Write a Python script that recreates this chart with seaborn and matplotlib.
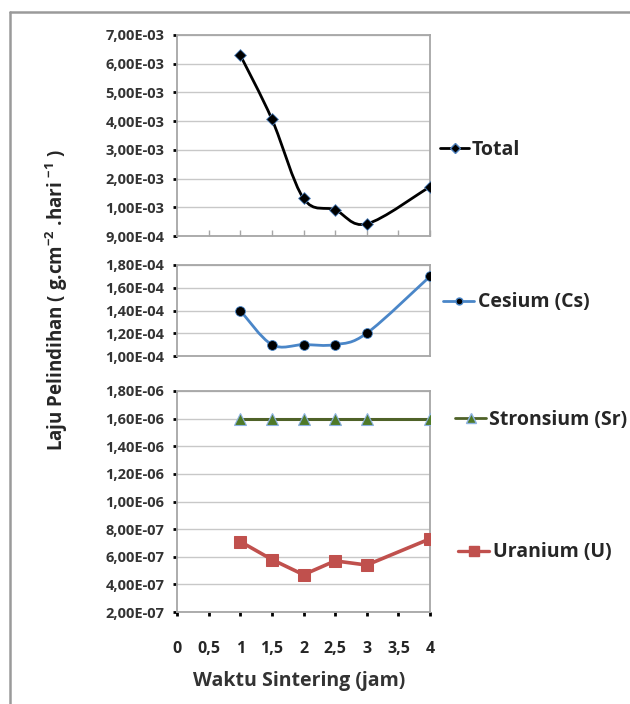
import numpy as np
import pandas as pd
import matplotlib
matplotlib.use("Agg")
import matplotlib.pyplot as plt
from matplotlib.path import Path
from matplotlib.patches import PathPatch
from matplotlib.lines import Line2D
import seaborn as sns

# ---------------- data ----------------
waktu = [1, 1.5, 2, 2.5, 3, 4]
total = [6.30e-3, 4.07e-3, 1.31e-3, 0.91e-3, 0.42e-3, 1.72e-3]
cesium = [1.40e-4, 1.10e-4, 1.10e-4, 1.10e-4, 1.20e-4, 1.70e-4]
stronsium = [1.60e-6, 1.60e-6, 1.60e-6, 1.60e-6, 1.60e-6, 1.60e-6]
uranium = [7.1e-7, 5.8e-7, 4.7e-7, 5.7e-7, 5.4e-7, 7.3e-7]

total_ticks = [0, 1e-3, 2e-3, 3e-3, 4e-3, 5e-3, 6e-3, 7e-3]
total_ticklabels = ["9,00E-04", "1,00E-03", "2,00E-03", "3,00E-03",
                    "4,00E-03", "5,00E-03", "6,00E-03", "7,00E-03"]
cs_ticks = [1.0e-4, 1.2e-4, 1.4e-4, 1.6e-4, 1.8e-4]
cs_ticklabels = ["1,00E-04", "1,20E-04", "1,40E-04", "1,60E-04", "1,80E-04"]
bot_ticks = [2e-7, 4e-7, 6e-7, 8e-7, 1.0e-6, 1.2e-6, 1.4e-6, 1.6e-6, 1.8e-6]
bot_ticklabels = ["2,00E-07", "4,00E-07", "6,00E-07", "8,00E-07", "1,00E-06",
                  "1,20E-06", "1,40E-06", "1,60E-06", "1,80E-06"]
x_ticks = [0, 0.5, 1, 1.5, 2, 2.5, 3, 3.5, 4]
x_ticklabels = ["0", "0,5", "1", "1,5", "2", "2,5", "3", "3,5", "4"]

labels = ["Total", "Cesium (Cs)", "Stronsium (Sr)", "Uranium (U)"]
xlabel = "Waktu Sintering (jam)"
ylabel = r"Laju Pelindihan ( g.cm$^{\mathbf{-2}}$ .hari $^{\mathbf{-1}}$ )"

# ---------------- style ----------------
sns.set_theme(style="white")
plt.rcParams["font.family"] = ["Open Sans", "DejaVu Sans"]
plt.rcParams["font.weight"] = "bold"
plt.rcParams["mathtext.fontset"] = "custom"
plt.rcParams["mathtext.bf"] = "Open Sans:bold"
plt.rcParams["mathtext.rm"] = "Open Sans:bold"

W, H = 630, 704
fig = plt.figure(figsize=(W / 100, H / 100), dpi=100)


def box(l, t, r, b):
    return [l / W, 1 - b / H, (r - l) / W, (b - t) / H]


ax1 = fig.add_axes(box(177, 35, 430, 236))
ax2 = fig.add_axes(box(177, 265, 430, 356))
ax3 = fig.add_axes(box(177, 391, 430, 612))

# outer frame (top and left border of chart area)
fig.add_artist(Line2D([10 / W, 10 / W], [1 - 12 / H, 0], color="#9a9a9a", lw=1.8,
                      transform=fig.transFigure))
fig.add_artist(Line2D([10 / W, 1], [1 - 12 / H, 1 - 12 / H], color="#9a9a9a", lw=1.8,
                      transform=fig.transFigure))


def smooth_curve(ax, xs, ys, color, lw):
    # Excel-like smoothed line through the data points (cubic Bezier segments)
    pts = np.column_stack([xs, ys]).astype(float)
    n = len(pts)
    verts = [pts[0]]
    codes = [Path.MOVETO]
    for i in range(n - 1):
        p0 = pts[i - 1] if i > 0 else pts[i]
        p1 = pts[i]
        p2 = pts[i + 1]
        p3 = pts[i + 2] if i + 2 < n else pts[i + 1]
        c1 = p1 + (p2 - p0) / 6.0
        c2 = p2 - (p3 - p1) / 6.0
        verts += [c1, c2, p2]
        codes += [Path.CURVE4] * 3
    ax.add_patch(PathPatch(Path(verts, codes), facecolor="none", edgecolor=color,
                           lw=lw, zorder=3, capstyle="round", joinstyle="round"))


def style_axis(ax, yticks, yticklabels, ylim):
    ax.set_xlim(0, 4)
    ax.set_ylim(*ylim)
    ax.set_yticks(yticks)
    ax.set_yticklabels(yticklabels, fontsize=10.5, fontweight="bold", color="#333333")
    ax.set_xticks(x_ticks)
    ax.grid(axis="y", color="#c8c8c8", lw=1)
    ax.grid(axis="x", visible=False)
    for s in ax.spines.values():
        s.set_color("#a6a6a6")
        s.set_linewidth(1.3)
    ax.tick_params(axis="y", which="major", left=True, length=3, width=2, color="black",
                   direction="out", pad=6)
    ax.set_xlabel("")
    ax.set_ylabel("")


LEG = {"size": 14, "weight": "bold"}

# ---- Top: Total ----
df_total = pd.DataFrame({"x": waktu, "y": total})
smooth_curve(ax1, waktu, total, "black", 2.0)
sns.scatterplot(data=df_total, x="x", y="y", ax=ax1, marker="D", s=36, color="black",
                edgecolor="#4f81bd", linewidth=0.6, zorder=4, legend=False)
style_axis(ax1, total_ticks, total_ticklabels, (0, 7e-3))
ax1.tick_params(axis="x", bottom=True, length=4, width=1, color="#a6a6a6",
                direction="in", labelbottom=False)
ax1.legend(handles=[Line2D([], [], color="black", lw=2, marker="D", markersize=5,
                           markerfacecolor="black", markeredgecolor="#4f81bd")],
           labels=[labels[0]], loc="center left", bbox_to_anchor=(1.0, 0.43),
           frameon=False, prop=LEG, handlelength=1.5,
           handletextpad=0.12, borderaxespad=0.12, labelcolor="#262626")

# ---- Middle: Cesium ----
df_cs = pd.DataFrame({"x": waktu, "y": cesium})
smooth_curve(ax2, waktu, cesium, "#4a86c8", 2.0)
sns.scatterplot(data=df_cs, x="x", y="y", ax=ax2, marker="o", s=50, color="black",
                edgecolor="#4a86c8", linewidth=0.6, zorder=4, legend=False)
style_axis(ax2, cs_ticks, cs_ticklabels, (1.0e-4, 1.8e-4))
ax2.tick_params(axis="x", bottom=False, labelbottom=False)
ax2.legend(handles=[Line2D([], [], color="#4a86c8", lw=2, marker="o", markersize=5,
                           markerfacecolor="black", markeredgecolor="#4a86c8")],
           labels=[labels[1]], loc="center left", bbox_to_anchor=(1.0, 0.59),
           frameon=False, prop=LEG, handlelength=1.6,
           handletextpad=0.2, borderaxespad=0.27, labelcolor="#262626")

# ---- Bottom: Stronsium & Uranium ----
df_bot = pd.DataFrame({"x": waktu * 2, "y": stronsium + uranium,
                       "unsur": [labels[2]] * len(waktu) + [labels[3]] * len(waktu)})
sns.lineplot(data=df_bot[df_bot["unsur"] == labels[2]], x="x", y="y", ax=ax3,
             color="#4f6228", lw=2.2, marker="^", markersize=9,
             markerfacecolor="#4f7a28", markeredgecolor="#8db3e2", markeredgewidth=0.8,
             legend=False, zorder=3)
sns.lineplot(data=df_bot[df_bot["unsur"] == labels[3]], x="x", y="y", ax=ax3,
             color="#c0504d", lw=2.6, marker="s", markersize=9,
             markerfacecolor="#c0504d", markeredgecolor="#c0504d",
             legend=False, zorder=3)
style_axis(ax3, bot_ticks, bot_ticklabels, (2e-7, 1.8e-6))
ax3.set_xticklabels(x_ticklabels, fontsize=11.5, fontweight="bold", color="#262626")
ax3.tick_params(axis="x", bottom=True, length=3, width=2, color="black",
                direction="out", pad=18)

leg_sr = ax3.legend(handles=[Line2D([], [], color="#4f6228", lw=2, marker="^", markersize=7,
                                    markerfacecolor="#4f7a28", markeredgecolor="#8db3e2")],
                    labels=[labels[2]], loc="center left", bbox_to_anchor=(1.0, 0.87),
                    frameon=False, prop=LEG, handlelength=1.6,
                    handletextpad=0.15, borderaxespad=0.89, labelcolor="#262626")
ax3.add_artist(leg_sr)
ax3.legend(handles=[Line2D([], [], color="#c0504d", lw=2.4, marker="s", markersize=7,
                           markerfacecolor="#c0504d", markeredgecolor="#c0504d")],
           labels=[labels[3]], loc="center left", bbox_to_anchor=(1.0, 0.27),
           frameon=False, prop=LEG, handlelength=1.6,
           handletextpad=0.2, borderaxespad=1.04, labelcolor="#262626")

# axis titles
fig.text(299 / W, 1 - 681 / H, xlabel, ha="center", va="center", fontsize=14,
         fontweight="bold", color="#333333")
fig.text(57 / W, 1 - 300 / H, ylabel, ha="center", va="center", rotation=90,
         fontsize=13.5, fontweight="bold", color="#262626")

fig.savefig("out.png", dpi=100)
